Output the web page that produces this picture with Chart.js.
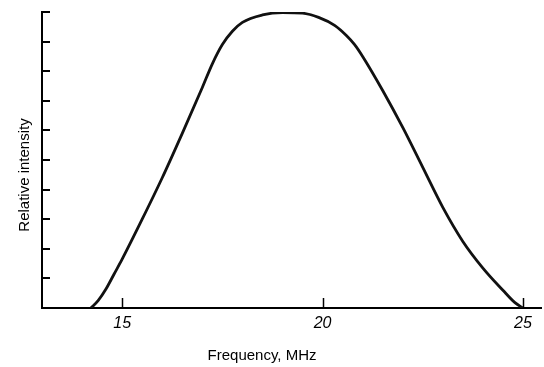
<!DOCTYPE html>
<html>
<head>
<meta charset="utf-8">
<script src="https://cdn.jsdelivr.net/npm/chart.js@4"></script>
<style>
  html, body { margin: 0; padding: 0; background: #fff; }
</style>
</head>
<body>
<canvas id="spectrum" width="544" height="367"></canvas>
<script>
// values (MHz, relative intensity 0-10)
const FREQ = [14.22, 14.4, 14.6, 14.8, 15.0, 15.5, 16.0, 16.5, 17.0, 17.25, 17.5, 17.75, 18.0, 18.5, 19.0,
  19.5, 19.9, 20.3, 20.6, 20.8, 21.0, 21.5, 22.0, 22.5, 23.0, 23.5, 24.0, 24.5, 24.8, 25.0];
const INTENSITY = [0, 0.25, 0.65, 1.15, 1.65, 3.0, 4.4, 5.9, 7.45, 8.25, 8.9, 9.35, 9.65, 9.9, 9.98,
  9.96, 9.82, 9.55, 9.2, 8.9, 8.5, 7.35, 6.1, 4.75, 3.4, 2.25, 1.35, 0.6, 0.18, 0];
const X_TICKS = [15, 20, 25];
const X_TITLE = 'Frequency, MHz';
const Y_TITLE = 'Relative intensity';

// ticks point into the plot, and the axis titles sit a bit off-centre like the original
const axisDecor = {
  id: 'axisDecor',
  afterDraw(chart) {
    const ctx = chart.ctx;
    const area = chart.chartArea;
    const x = chart.scales.x;
    const y = chart.scales.y;
    ctx.save();
    ctx.strokeStyle = '#000';
    ctx.lineWidth = 2;
    y.ticks.forEach(t => {
      const py = Math.round(y.getPixelForValue(t.value));
      ctx.beginPath();
      ctx.moveTo(area.left, py);
      ctx.lineTo(area.left + 8, py);
      ctx.stroke();
    });
    ctx.lineWidth = 1.5;
    x.ticks.forEach(t => {
      const px = Math.round(x.getPixelForValue(t.value)) + 0.5;
      ctx.beginPath();
      ctx.moveTo(px, area.bottom);
      ctx.lineTo(px, area.bottom - 10);
      ctx.stroke();
    });

    ctx.fillStyle = '#000';
    ctx.font = '15px "Liberation Sans", Arial, sans-serif';
    ctx.textAlign = 'center';
    ctx.textBaseline = 'alphabetic';
    ctx.fillText(X_TITLE, area.left + 220, area.bottom + 52);
    ctx.translate(29, 175);
    ctx.rotate(-Math.PI / 2);
    ctx.fillText(Y_TITLE, 0, 0);
    ctx.restore();
  }
};

new Chart(document.getElementById('spectrum'), {
  type: 'line',
  data: {
    datasets: [{
      data: FREQ.map((f, i) => ({ x: f, y: INTENSITY[i] })),
      borderColor: '#111',
      borderWidth: 2.8,
      pointRadius: 0,
      fill: false,
      cubicInterpolationMode: 'monotone'
    }]
  },
  options: {
    responsive: false,
    animation: false,
    layout: { padding: { top: 12, right: 3, left: 0, bottom: 0 } },
    plugins: {
      legend: { display: false },
      tooltip: { enabled: false }
    },
    scales: {
      x: {
        type: 'linear',
        min: 13,
        max: 25.45,
        afterBuildTicks: (scale) => { scale.ticks = X_TICKS.map(v => ({ value: v })); },
        afterFit: (scale) => { scale.height = 59; },
        grid: { display: false, drawTicks: false },
        border: { display: true, color: '#000', width: 2 },
        ticks: {
          color: '#000',
          padding: 6,
          maxRotation: 0,
          font: { family: '"Liberation Sans", Arial, sans-serif', size: 16, style: 'italic' }
        }
      },
      y: {
        min: 0,
        max: 10,
        afterFit: (scale) => { scale.width = 42; },
        grid: { display: false, drawTicks: false },
        border: { display: true, color: '#000', width: 2 },
        ticks: { display: false, stepSize: 1 }
      }
    }
  },
  plugins: [axisDecor]
});
</script>
</body>
</html>
